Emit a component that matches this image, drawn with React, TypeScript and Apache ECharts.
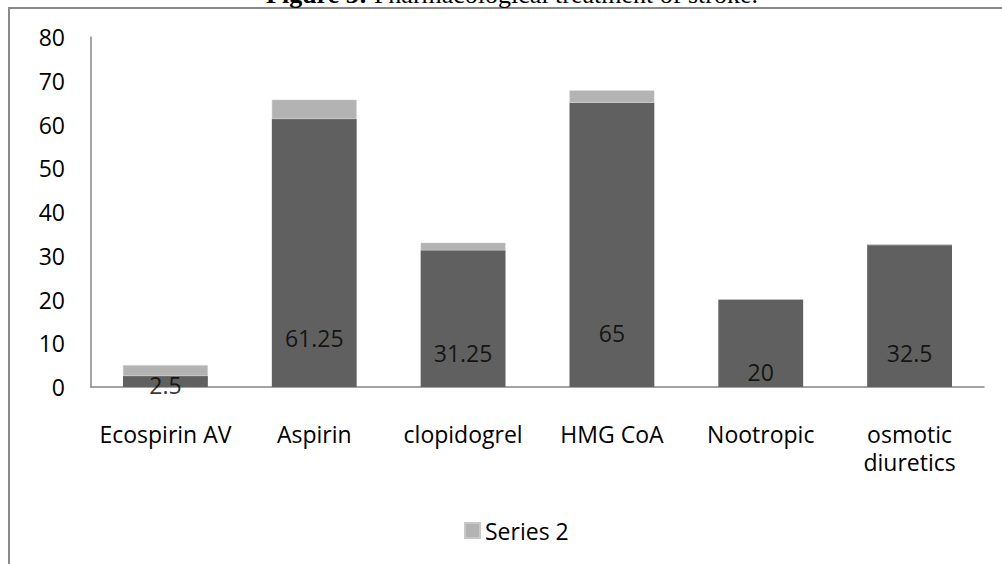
import React, { useEffect, useRef } from "react";
import * as echarts from "echarts";

const categories = ["Ecospirin AV", "Aspirin", "clopidogrel", "HMG CoA", "Nootropic", "osmotic\ndiuretics"];
const series1Values = [2.5, 61.25, 31.25, 65, 20, 32.5];
const series2Values = [2.5, 4.4, 1.7, 2.8, 0, 0];
// value (in axis units) at which each data label of series 1 sits
const labelAnchors = [0.5, 11.2, 7.8, 12.3, 3.4, 7.8];
const yMin = 0;
const yMax = 80;
const yInterval = 10;
const titleBold = "Figure 3:";
const titleRest = " Pharmacological treatment of stroke.";

const FONT = "'Open Sans', 'Liberation Sans', sans-serif";
const SERIF = "'Liberation Serif', 'Times New Roman', serif";

export default function App() {
  const ref = useRef<HTMLDivElement>(null);
  useEffect(() => {
    if (!ref.current) return;
    const chart = echarts.init(ref.current, undefined, { renderer: "svg" });
    chart.setOption({
      animation: false,
      backgroundColor: "#ffffff",
      textStyle: { fontFamily: FONT },
      graphic: [
        {
          type: "rect",
          shape: { x: 9, y: 8, width: 1200, height: 800 },
          style: { fill: "none", stroke: "#8a8a8a", lineWidth: 2 },
          silent: true,
          z: 0,
        },
        {
          type: "text",
          x: 512,
          y: 7,
          style: {
            text: "{b|" + titleBold + "}{r|" + titleRest + "}",
            rich: {
              b: { fontFamily: SERIF, fontSize: 26, fontWeight: "bold", fill: "#000", color: "#000" },
              r: { fontFamily: SERIF, fontSize: 26, fill: "#000", color: "#000" },
            },
            fontFamily: SERIF,
            fontSize: 26,
            fill: "#000",
            align: "center",
            verticalAlign: "bottom",
          },
          z: 1,
        },
      ],
      grid: { left: 91, right: 18, top: 37, bottom: 177, containLabel: false },
      legend: {
        data: ["Series 2"],
        left: 459,
        top: 514,
        itemWidth: 15,
        itemHeight: 15,
        itemGap: 6,
        icon: "rect",
        textStyle: { fontFamily: FONT, fontSize: 23, color: "#000" },
      },
      xAxis: {
        type: "category",
        data: categories,
        axisLine: { show: true, lineStyle: { color: "#868686", width: 1.5 } },
        axisTick: { show: false },
        axisLabel: {
          color: "#000",
          fontFamily: FONT,
          fontSize: 23,
          margin: 33,
          lineHeight: 28,
          interval: 0,
        },
      },
      yAxis: {
        type: "value",
        min: yMin,
        max: yMax,
        interval: yInterval,
        axisLine: { show: true, lineStyle: { color: "#868686", width: 1.5 } },
        axisTick: { show: false },
        splitLine: { show: false },
        axisLabel: { color: "#000", fontFamily: FONT, fontSize: 23, margin: 26, padding: [6, 0, 0, 0] },
      },
      series: [
        {
          name: "Series 1",
          type: "bar",
          stack: "total",
          data: series1Values,
          barWidth: "57%",
          itemStyle: { color: "#606060" },
          z: 2,
        },
        {
          name: "Series 2",
          type: "bar",
          stack: "total",
          data: series2Values,
          barWidth: "57%",
          itemStyle: { color: "#b3b3b3", borderColor: "#c8c8c8", borderWidth: 0.5 },
          z: 2,
        },
        {
          name: "labels",
          type: "scatter",
          data: labelAnchors.map((v, i) => [i, v]),
          symbolSize: 0,
          silent: true,
          z: 5,
          label: {
            show: true,
            position: "inside",
            color: "#000",
            fontFamily: FONT,
            fontSize: 23,
            formatter: (p: any) => String(series1Values[p.dataIndex]),
          },
        },
      ],
    });
    return () => chart.dispose();
  }, []);
  return (
    <div
      ref={ref}
      style={{ position: "fixed", left: 0, top: 0, width: 1002, height: 564, background: "#fff" }}
    />
  );
}
